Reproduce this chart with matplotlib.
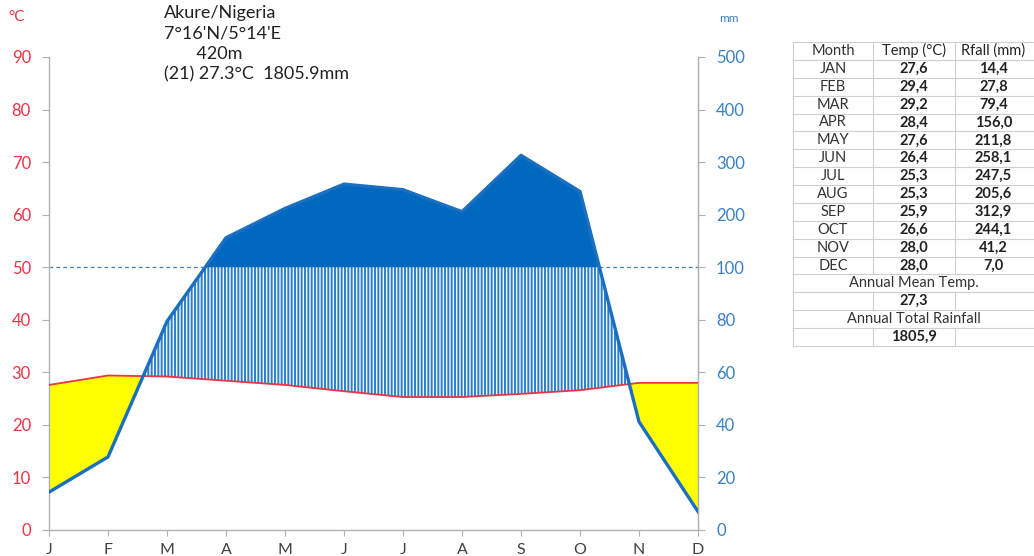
import numpy as np
import matplotlib
matplotlib.use("Agg")
import matplotlib.pyplot as plt

plt.rcParams["font.family"] = ["Lato", "DejaVu Sans"]
plt.rcParams["hatch.linewidth"] = 1.4

months = ["J", "F", "M", "A", "M", "J", "J", "A", "S", "O", "N", "D"]
month_names = ["JAN", "FEB", "MAR", "APR", "MAY", "JUN",
               "JUL", "AUG", "SEP", "OCT", "NOV", "DEC"]
temp = np.array([27.6, 29.4, 29.2, 28.4, 27.6, 26.4, 25.3, 25.3, 25.9, 26.6, 28.0, 28.0])
rain = np.array([14.4, 27.8, 79.4, 156.0, 211.8, 258.1, 247.5, 205.6, 312.9, 244.1, 41.2, 7.0])
mean_temp = 27.3
total_rain = 1805.9

station = "Akure/Nigeria"
coords = "7°16'N/5°14'E"
elevation = "420m"
years = 21

temp_ticks = [0, 10, 20, 30, 40, 50, 60, 70, 80, 90]
rain_ticks = [0, 20, 40, 60, 80, 100, 200, 300, 400, 500]

RED = "#ee3344"
BLUE = "#1b6fc0"
DARK_BLUE = "#0068bf"
LABEL_BLUE = "#3a80c2"
GRID = "#b0b0b0"


def rain_to_temp(p):
    # Walter-Lieth scale: 20 mm = 10 °C up to 100 mm, then 100 mm = 10 °C
    p = np.asarray(p, dtype=float)
    return np.where(p <= 100, p / 2, 50 + (p - 100) / 10)


x = np.arange(len(months))
rs = rain_to_temp(rain)

fig = plt.figure(figsize=(10.34, 5.56), dpi=100)
ax = fig.add_axes([49 / 1034, 1 - 530 / 556, (698 - 49) / 1034, (530 - 57) / 556])

ax.axhline(50, color=LABEL_BLUE, lw=0.9, ls=(0, (3, 2.5)), zorder=1)

# arid period
ax.fill_between(x, rs, temp, where=temp >= rs, interpolate=True,
                facecolor="#ffff00", edgecolor="none", zorder=2)
# humid period
ax.fill_between(x, temp, rs, where=rs >= temp, interpolate=True,
                facecolor="#f4f9ff", edgecolor="#2a7fcc", hatch="|||||", lw=0, zorder=2)
# perhumid period (> 100 mm)
ax.fill_between(x, 50, rs, where=rs >= 50, interpolate=True,
                facecolor=DARK_BLUE, edgecolor="none", zorder=3)

ax.plot(x, temp, color=RED, lw=1.3, zorder=4)
ax.plot(x, rs, color=BLUE, lw=2.4, zorder=5)

ax.set_xlim(0, 11)
ax.set_ylim(0, 90)
ax.set_xticks(x)
ax.set_xticklabels(months)
ax.set_yticks(temp_ticks)
ax.spines["top"].set_visible(False)
for s in ["left", "right", "bottom"]:
    ax.spines[s].set_color(GRID)
    ax.spines[s].set_linewidth(1.0)
ax.tick_params(axis="y", colors=GRID, labelcolor=RED, labelsize=12, length=5, pad=8)
ax.tick_params(axis="x", colors=GRID, labelcolor="#404040", labelsize=11.5, length=4, pad=5)

ax2 = ax.twinx()
ax2.set_ylim(0, 90)
ax2.set_yticks(rain_to_temp(rain_ticks))
ax2.set_yticklabels([str(v) for v in rain_ticks])
for s in ["top", "left", "bottom"]:
    ax2.spines[s].set_visible(False)
ax2.spines["right"].set_color(GRID)
ax2.tick_params(axis="y", colors=GRID, labelcolor=LABEL_BLUE, labelsize=12, length=5, pad=8)

fig.text(8 / 1034, 1 - 17 / 556, "°C", color=RED, fontsize=11, va="center")
fig.text(719 / 1034, 1 - 18 / 556, "mm", color=LABEL_BLUE, fontsize=8.5, va="center")

header = [station, coords, "       " + elevation,
          f"({years}) {mean_temp:.1f}°C  {total_rain:.1f}mm"]
for i, line in enumerate(header):
    fig.text(164 / 1034, 1 - (13 + 20.5 * i) / 556, line, fontsize=13,
             color="#222222", va="center")

# data table on the right
tab = fig.add_axes([793 / 1034, 1 - 346 / 556, (1034 - 793) / 1034, (346 - 42) / 556])
tab.set_xlim(0, 241)
tab.set_ylim(17, 0)
tab.axis("off")
cols = [0, 80, 162, 245]
mids = [(cols[i] + cols[i + 1]) / 2 for i in range(3)]
line_kw = dict(color="#cfcfcf", lw=0.8)
fs = 10.5


def fmt(v):
    return f"{v:.1f}".replace(".", ",")


rows = [("Month", "Temp (°C)", "Rfall (mm)", "normal")]
for m, t, r in zip(month_names, temp, rain):
    rows.append((m, fmt(t), fmt(r), "bold"))
for i, (a, b, c, w) in enumerate(rows):
    tab.text(mids[0], i + 0.5, a, ha="center", va="center", fontsize=fs, color="#333333")
    tab.text(mids[1], i + 0.5, b, ha="center", va="center", fontsize=fs, color="#222222", fontweight=w)
    tab.text(mids[2] - 3, i + 0.5, c, ha="center", va="center", fontsize=fs, color="#222222", fontweight=w)
    for cx in cols:
        tab.plot([cx, cx], [i, i + 1], **line_kw)

extra = [("Annual Mean Temp.", None), (None, fmt(mean_temp)),
         ("Annual Total Rainfall", None), (None, fmt(total_rain))]
for j, (title, val) in enumerate(extra):
    i = len(rows) + j
    if title:
        tab.text(cols[-1] / 2 - 2, i + 0.5, title, ha="center", va="center",
                 fontsize=fs, color="#333333")
        tab.plot([cols[0], cols[0]], [i, i + 1], **line_kw)
    else:
        tab.text(mids[1], i + 0.5, val, ha="center", va="center",
                 fontsize=fs, color="#222222", fontweight="bold")
        for cx in cols:
            tab.plot([cx, cx], [i, i + 1], **line_kw)
for i in range(18):
    tab.plot([0, 245], [i, i], **line_kw)
for ln in tab.lines:
    ln.set_clip_on(False)

fig.savefig("out.png", dpi=100)
